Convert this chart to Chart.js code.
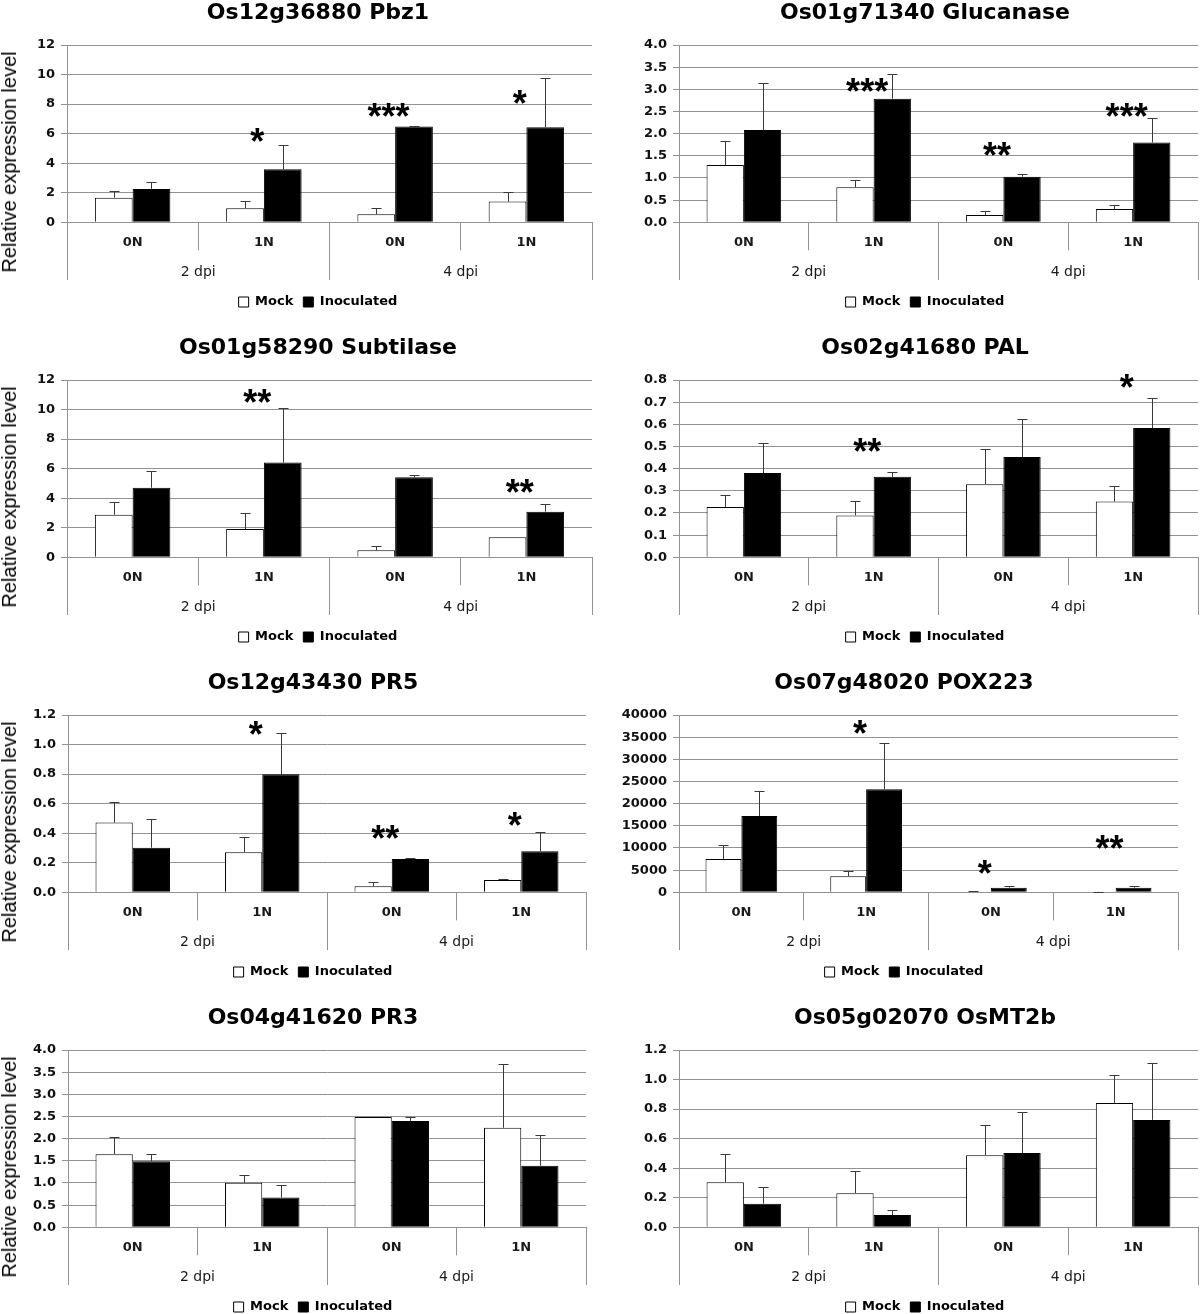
<!DOCTYPE html>
<html>
<head>
<meta charset="utf-8">
<script src="https://cdn.jsdelivr.net/npm/chart.js@4.4.1/dist/chart.umd.min.js"></script>
<style>
html, body { margin: 0; padding: 0; background: #fff; }
body { width: 1200px; height: 1314px; overflow: hidden; position: relative; }
canvas { position: absolute; }
.ylab {
  position: absolute; font-family: "Liberation Sans", Arial, sans-serif; font-size: 20px;
  line-height: 1; white-space: nowrap; color: #000;
  transform: translate(-50%, -50%) rotate(-90deg);
}
</style>
</head>
<body>
<script>
// ---------------- DATA ----------------
const categories = ['0N', '1N', '0N', '1N'];
const timepoints = ['2 dpi', '4 dpi'];
const seriesNames = ['Mock', 'Inoculated'];
const yAxisTitle = 'Relative expression level';
const titles = ['Os12g36880 Pbz1', 'Os01g71340 Glucanase', 'Os01g58290 Subtilase', 'Os02g41680 PAL',
                'Os12g43430 PR5', 'Os07g48020 POX223', 'Os04g41620 PR3', 'Os05g02070 OsMT2b'];
const yMax = [12, 4, 12, 0.8, 1.2, 40000, 4, 1.2];
const yStep = [2, 0.5, 2, 0.1, 0.2, 5000, 0.5, 0.2];
const yDecimals = [0, 1, 0, 1, 1, 0, 1, 1];

const pbz1Mock = [1.67, 0.95, 0.54, 1.40];
const pbz1MockErr = [0.45, 0.47, 0.41, 0.63];
const pbz1Inoc = [2.26, 3.59, 6.48, 6.43];
const pbz1InocErr = [0.49, 1.65, 0.07, 3.37];
const pbz1Sig = ['', '*', '***', '*'];
const pbz1SigAt = [null, 5.96, 7.7, 8.58];

const glucMock = [1.29, 0.79, 0.165, 0.30];
const glucMockErr = [0.54, 0.16, 0.095, 0.08];
const glucInoc = [2.08, 2.79, 1.03, 1.80];
const glucInocErr = [1.06, 0.56, 0.07, 0.55];
const glucSig = ['', '***', '**', '***'];
const glucSigAt = [null, 3.13, 1.68, 2.56];

const subtMock = [2.88, 1.91, 0.47, 1.35];
const subtMockErr = [0.84, 1.11, 0.27, 0];
const subtInoc = [4.71, 6.42, 5.41, 3.09];
const subtInocErr = [1.11, 3.69, 0.13, 0.51];
const subtSig = ['', '**', '', '**'];
const subtSigAt = [null, 11.0, null, 4.91];

const palMock = [0.227, 0.189, 0.33, 0.252];
const palMockErr = [0.055, 0.063, 0.16, 0.069];
const palInoc = [0.38, 0.363, 0.453, 0.583];
const palInocErr = [0.137, 0.024, 0.172, 0.135];
const palSig = ['', '**', '', '*'];
const palSigAt = [null, 0.51, null, 0.80];

const pr5Mock = [0.472, 0.271, 0.041, 0.083];
const pr5MockErr = [0.14, 0.101, 0.027, 0.005];
const pr5Inoc = [0.302, 0.799, 0.226, 0.278];
const pr5InocErr = [0.192, 0.282, 0.006, 0.132];
const pr5Sig = ['', '*', '**', '*'];
const pr5SigAt = [null, 1.117, 0.418, 0.506];

const poxMock = [7520, 3610, 150, 100];
const poxMockErr = [3160, 1130, 50, 20];
const poxInoc = [17220, 23230, 1050, 1050];
const poxInocErr = [5640, 10370, 300, 300];
const poxSig = ['', '*', '*', '**'];
const poxSigAt = [null, 37600, 6000, 11650];

const pr3Mock = [1.65, 1.006, 2.49, 2.245];
const pr3MockErr = [0.39, 0.184, 0, 1.435];
const pr3Inoc = [1.49, 0.67, 2.40, 1.39];
const pr3InocErr = [0.16, 0.29, 0.09, 0.70];
const pr3Sig = ['', '', '', ''];
const pr3SigAt = [null, null, null, null];

const mt2bMock = [0.305, 0.23, 0.488, 0.842];
const mt2bMockErr = [0.189, 0.149, 0.203, 0.19];
const mt2bInoc = [0.16, 0.084, 0.503, 0.727];
const mt2bInocErr = [0.113, 0.033, 0.28, 0.388];
const mt2bSig = ['', '', '', ''];
const mt2bSigAt = [null, null, null, null];

// ---------------- BUILD ----------------
const geneData = [
  [pbz1Mock, pbz1MockErr, pbz1Inoc, pbz1InocErr, pbz1Sig, pbz1SigAt],
  [glucMock, glucMockErr, glucInoc, glucInocErr, glucSig, glucSigAt],
  [subtMock, subtMockErr, subtInoc, subtInocErr, subtSig, subtSigAt],
  [palMock, palMockErr, palInoc, palInocErr, palSig, palSigAt],
  [pr5Mock, pr5MockErr, pr5Inoc, pr5InocErr, pr5Sig, pr5SigAt],
  [poxMock, poxMockErr, poxInoc, poxInocErr, poxSig, poxSigAt],
  [pr3Mock, pr3MockErr, pr3Inoc, pr3InocErr, pr3Sig, pr3SigAt],
  [mt2bMock, mt2bMockErr, mt2bInoc, mt2bInocErr, mt2bSig, mt2bSigAt]
];

// layout of the eight panels (canvas origin, paddings, y-axis width)
const frames = [
  {x: 0,   y: 0,    padL: 44, padR: 8,  yW: 23, yTitle: true},
  {x: 600, y: 0,    padL: 52, padR: 2,  yW: 27},
  {x: 0,   y: 335,  padL: 44, padR: 8,  yW: 23, yTitle: true},
  {x: 600, y: 335,  padL: 52, padR: 2,  yW: 27},
  {x: 0,   y: 670,  padL: 40, padR: 14, yW: 28, yTitle: true},
  {x: 600, y: 670,  padL: 30, padR: 22, yW: 49},
  {x: 0,   y: 1005, padL: 40, padR: 14, yW: 28, yTitle: true},
  {x: 600, y: 1005, padL: 52, padR: 2,  yW: 27}
];

const GRID = '#929292';
const TICKFONT = {family: 'DejaVu Sans', weight: 'bold', size: 13};
const noClip = () => undefined;

const errorBarPlugin = {
  id: 'errorBars',
  afterDatasetsDraw(chart) {
    const ctx = chart.ctx, ys = chart.scales.y;
    chart.data.datasets.forEach((ds, i) => {
      const meta = chart.getDatasetMeta(i);
      meta.data.forEach((bar, j) => {
        const v = ds.data[j], e = ds.errors[j];
        if (!e) return;
        const top = Math.round(ys.getPixelForValue(v + e)) + 0.5;
        const x = Math.round(bar.x) + 0.5;
        ctx.save();
        ctx.strokeStyle = '#3a3a3a';
        ctx.lineWidth = 1;
        ctx.beginPath();
        ctx.moveTo(x, bar.y);
        ctx.lineTo(x, top);
        ctx.moveTo(x - 5, top);
        ctx.lineTo(x + 5, top);
        ctx.stroke();
        ctx.restore();
      });
    });
  }
};

const sigPlugin = {
  id: 'sigMarks',
  afterDatasetsDraw(chart, args, opts) {
    const ctx = chart.ctx, xs = chart.scales.x, ys = chart.scales.y;
    const labels = opts.labels || [], at = opts.at || [];
    const groupW = (xs.right - xs.left) / categories.length;
    const size = 36;
    ctx.save();
    ctx.font = "bold " + size + "px 'Liberation Sans', Arial, sans-serif";
    ctx.fillStyle = '#000';
    ctx.textAlign = 'center';
    ctx.textBaseline = 'alphabetic';
    labels.forEach((t, j) => {
      if (!t || at[j] == null) return;
      const x = xs.getPixelForValue(j) - groupW * 0.05;
      const y = ys.getPixelForValue(at[j]) + size * 0.56;
      ctx.fillText(t, x, y);
    });
    ctx.restore();
  }
};

frames.forEach((f, k) => {
  const [mock, mockErr, inoc, inocErr, sig, sigAt] = geneData[k];
  const cv = document.createElement('canvas');
  cv.width = 600; cv.height = 335;
  cv.style.left = f.x + 'px'; cv.style.top = f.y + 'px';
  document.body.appendChild(cv);

  if (f.yTitle) {
    const d = document.createElement('div');
    d.className = 'ylab';
    d.textContent = yAxisTitle;
    d.style.left = '9px';
    d.style.top = (f.y + 162) + 'px';
    document.body.appendChild(d);
  }

  const dec = yDecimals[k];
  new Chart(cv, {
    type: 'bar',
    data: {
      labels: categories,
      datasets: [
        {label: seriesNames[0], data: mock, errors: mockErr, backgroundColor: '#ffffff',
         borderColor: '#000000', borderWidth: 1, borderSkipped: 'bottom'},
        {label: seriesNames[1], data: inoc, errors: inocErr, backgroundColor: '#000000',
         borderColor: '#000000', borderWidth: 1, borderSkipped: 'bottom'}
      ]
    },
    options: {
      responsive: false,
      animation: false,
      devicePixelRatio: 1,
      datasets: {bar: {categoryPercentage: 0.575, barPercentage: 1.0}},
      layout: {padding: {left: f.padL, right: f.padR, top: 0, bottom: 16.5}},
      scales: {
        x: {
          type: 'category', position: 'bottom', offset: true,
          grid: {offset: true, drawOnChartArea: false, tickLength: 28, color: GRID},
          border: {color: GRID},
          ticks: {font: TICKFONT, color: '#1a1a1a', padding: -15.5, maxRotation: 0, autoSkip: false},
          afterFit: s => { s.height = 20; s._computeLabelArea = noClip; }
        },
        x2: {
          type: 'category', position: 'bottom', offset: true, labels: timepoints,
          grid: {offset: true, drawOnChartArea: false, tickLength: 37.7, color: GRID},
          border: {display: false},
          ticks: {font: {family: 'DejaVu Sans', size: 14}, color: '#1a1a1a', padding: -16, maxRotation: 0},
          afterFit: s => { s.height = 43.2; s._computeLabelArea = noClip; }
        },
        y: {
          min: 0, max: yMax[k],
          grid: {color: GRID, tickLength: 6},
          border: {color: GRID},
          ticks: {stepSize: yStep[k], font: TICKFONT, color: '#111', padding: 6,
                  callback: v => Number(v).toFixed(dec)},
          afterFit: s => { s.width = f.yW; s._computeLabelArea = noClip; }
        }
      },
      plugins: {
        title: {display: true, text: titles[k], color: '#000',
                font: {family: 'DejaVu Sans', weight: 'bold', size: 22, lineHeight: 1.2},
                padding: {top: 0, bottom: 18.6}},
        legend: {display: true, position: 'bottom',
                 labels: {font: {family: 'DejaVu Sans', weight: 'bold', size: 13}, color: '#000',
                          boxWidth: 10, boxHeight: 10, padding: 10}},
        tooltip: {enabled: false},
        sigMarks: {labels: sig, at: sigAt}
      }
    },
    plugins: [errorBarPlugin, sigPlugin]
  });
});
</script>
</body>
</html>
